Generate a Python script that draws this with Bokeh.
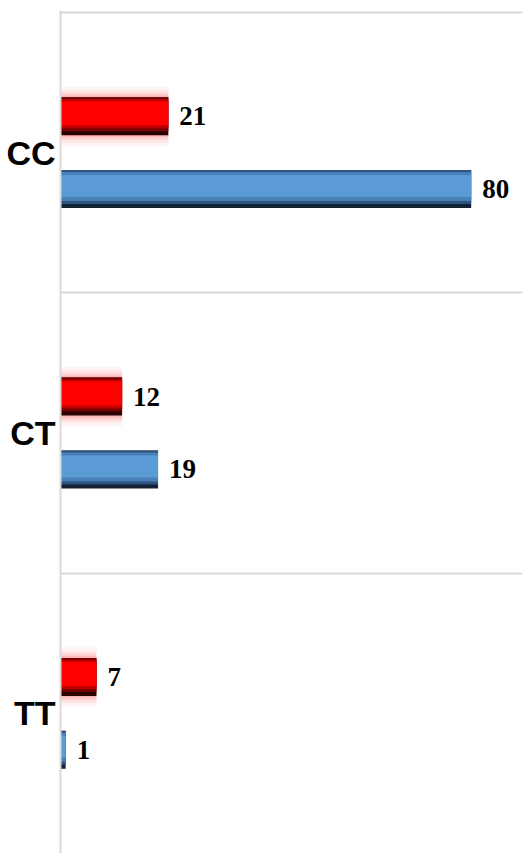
from bokeh.plotting import figure
from bokeh.models import ColumnDataSource, FixedTicker, Range1d
from bokeh.embed import file_html
from bokeh.resources import INLINE
from bokeh.core.properties import value

# ---- data ----
categories = ["CC", "CT", "TT"]
red_values = [21, 12, 7]
blue_values = [80, 19, 1]

n = len(categories)
centers = [n - i - 0.5 for i in range(n)]
OFF = 0.13
BAR_H = 0.137
PX = 1 / 280.3  # one pixel in y data units (approx.)

red_y = [c + OFF for c in centers]
blue_y = [c - OFF for c in centers]

red_src = ColumnDataSource(dict(y=red_y, v=red_values, t=[str(v) for v in red_values]))
blue_src = ColumnDataSource(dict(y=blue_y, v=blue_values, t=[str(v) for v in blue_values]))

p = figure(width=525, height=853, x_range=Range1d(0, 90), y_range=Range1d(0, 3.007),
           output_backend="svg", toolbar_location=None,
           min_border_left=60, min_border_top=10, min_border_right=3, min_border_bottom=0)
p.outline_line_color = None
p.background_fill_color = "white"
p.border_fill_color = "white"

# axes
p.xaxis.visible = False
p.xgrid.visible = False
p.yaxis.ticker = FixedTicker(ticks=centers)
p.yaxis.major_label_overrides = {c: cat for c, cat in zip(centers, categories)}
p.yaxis.major_tick_line_color = None
p.yaxis.minor_tick_line_color = None
p.yaxis.major_tick_out = 0
p.yaxis.major_label_standoff = 5
p.yaxis.axis_line_color = "#d9d9d9"
p.yaxis.axis_line_width = 2
p.yaxis.major_label_text_font = "Liberation Sans"
p.yaxis.major_label_text_font_style = "bold"
p.yaxis.major_label_text_font_size = "34px"
p.yaxis.major_label_text_color = "black"

p.ygrid.ticker = FixedTicker(ticks=[1, 2, 3])
p.ygrid.grid_line_color = "#d9d9d9"
p.ygrid.grid_line_width = 2

# red glow
for extra, a in [(0.075, 0.05), (0.05, 0.07), (0.028, 0.10), (0.012, 0.14)]:
    p.hbar(y="y", left=0, right="v", height=BAR_H + extra, source=red_src,
           fill_color="#ff2020", fill_alpha=a, line_color=None)

# bevelled bars via stacked stripes: (offset px, height px, colour)
red_layers = [(0, 38, "#2a0000"), (2, 34, "#7a0000"), (2.5, 29, "#c00000"), (3, 24, "#ff0000")]
blue_layers = [(0, 38, "#132235"), (2, 34, "#2c557f"), (2.5, 29, "#4a80b8"), (3, 22, "#5b9bd5")]

for ys, vals, layers in ((red_y, red_values, red_layers), (blue_y, blue_values, blue_layers)):
    for dy, h, col in layers:
        src = ColumnDataSource(dict(y=[y + dy * PX for y in ys], v=vals))
        p.hbar(y="y", left=0, right="v", height=h * PX, source=src,
               fill_color=col, line_color=None)

# value labels
for src in (red_src, blue_src):
    p.text(x="v", y="y", text="t", source=src, x_offset=11, text_baseline="middle",
           text_align="left", text_font=value("Liberation Serif"), text_font_style="bold",
           text_font_size="27px", text_color="black")

open("out.html", "w").write(file_html(p, INLINE))
